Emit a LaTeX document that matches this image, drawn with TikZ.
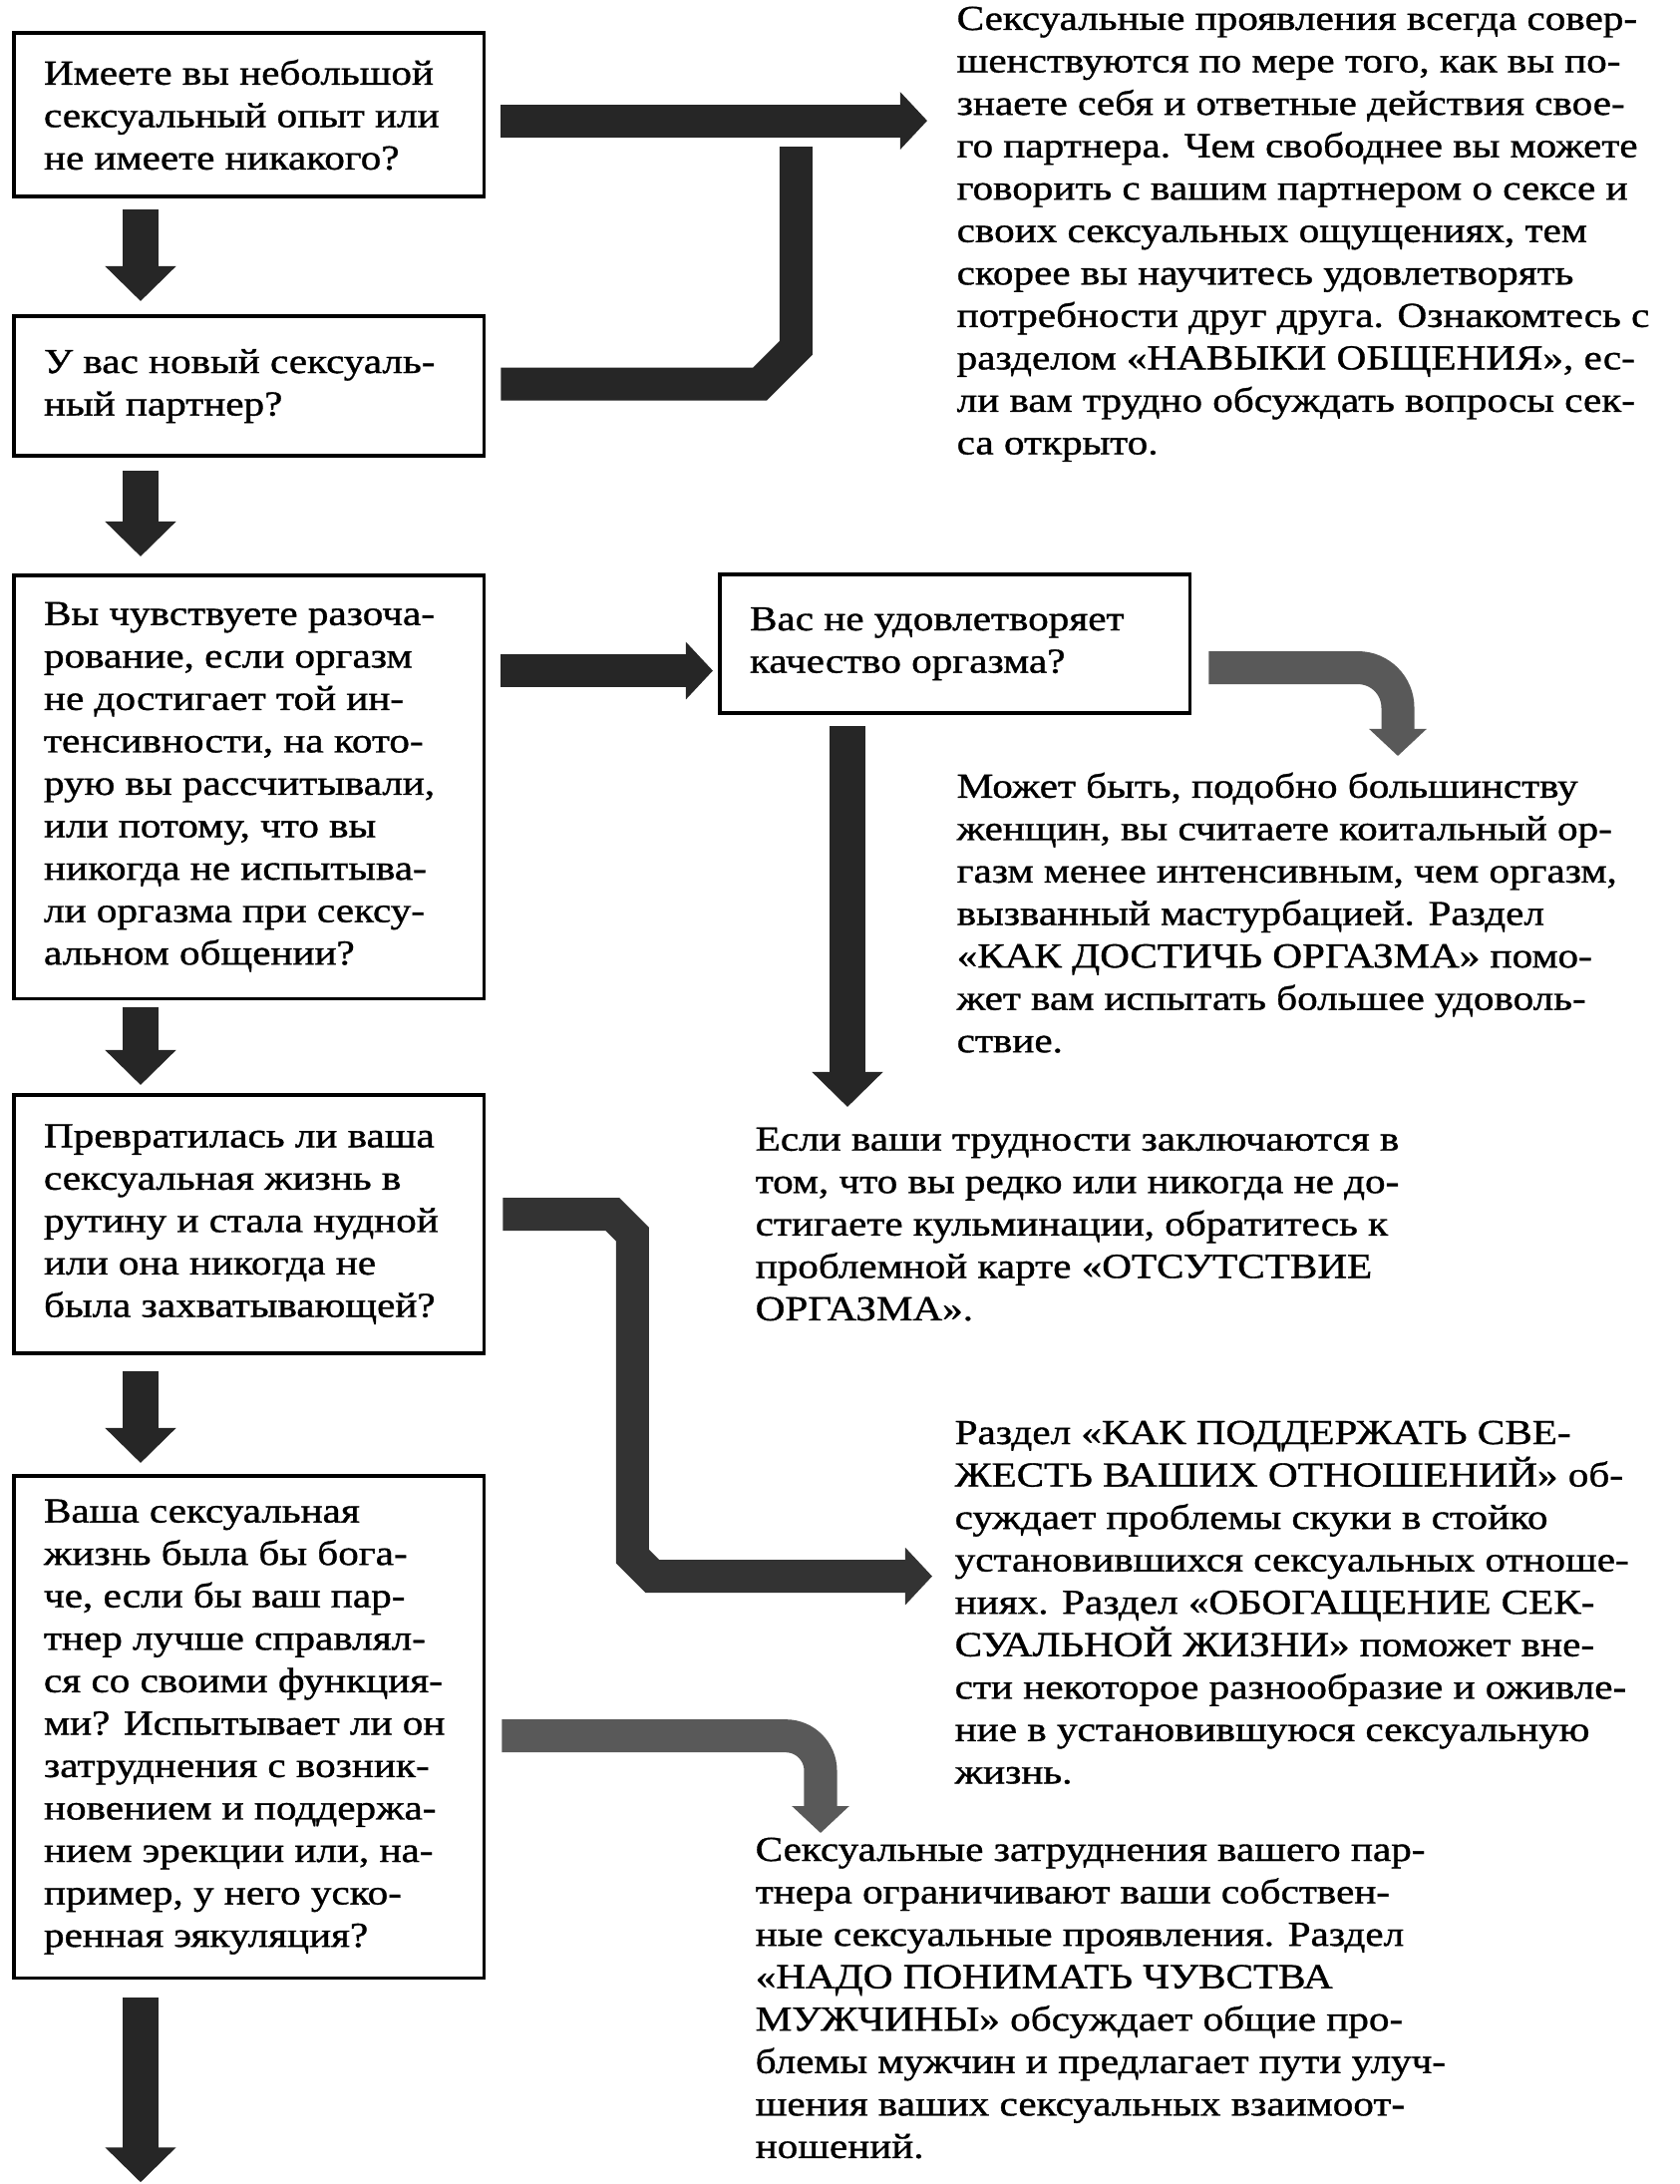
\documentclass[tikz,border=0pt]{standalone}
\usepackage{fontspec}
\newfontfamily\scanfont{Liberation Serif}[FakeStretch=1.17,FakeBold=1]
\usetikzlibrary{arrows.meta}

\begin{document}
\begin{tikzpicture}[x=0.01cm, y=-0.01cm,
    qbox/.style={draw, line width=1pt, rectangle, anchor=north west, outer sep=0pt,
      inner xsep=0.30cm, inner ysep=0pt, text width=4.11cm, align=flush left,
      font=\scanfont\fontsize{10pt}{12.1pt}\selectfont},
    note/.style={anchor=north west, inner sep=0pt, text width=7.4cm, align=flush left,
      font=\scanfont\fontsize{10pt}{12.1pt}\selectfont},
    fatdown/.style={line width=0.35cm, black!85, -{Triangle[width=0.69cm,length=0.35cm]}},
    fatlink/.style={line width=0.33cm, line join=miter, black!85, -{Triangle[width=0.56cm,length=0.27cm]}}]

\useasboundingbox (0,0) rectangle (1684,2190);

% question boxes
\node[qbox, minimum height=1.64cm] (b1) at (14,33)
  {Имеете вы небольшой\\сексуальный опыт или\\не имеете никакого?};
\node[qbox, minimum height=1.40cm] (b2) at (14,317)
  {У вас новый сексуаль-\\ный партнер?};
\node[qbox, minimum height=4.24cm] (b3) at (14,577)
  {Вы чувствуете разоча-\\рование, если оргазм\\не достигает той ин-\\тенсивности, на кото-\\рую вы рассчитывали,\\или потому, что вы\\никогда не испытыва-\\ли оргазма при сексу-\\альном общении?};
\node[qbox, minimum height=2.59cm] (b4) at (14,1098)
  {Превратилась ли ваша\\сексуальная жизнь в\\рутину и стала нудной\\или она никогда не\\была захватывающей?};
\node[qbox, minimum height=5.03cm] (b5) at (14,1480)
  {Ваша сексуальная\\жизнь была бы бога-\\че, если бы ваш пар-\\тнер лучше справлял-\\ся со своими функция-\\ми? Испытывает ли он\\затруднения с возник-\\новением и поддержа-\\нием эрекции или, на-\\пример, у него уско-\\ренная эякуляция?};
\node[qbox, minimum height=1.39cm] (b6) at (722,576)
  {Вас не удовлетворяет\\качество оргазма?};

% answers
\node[note] (t1) at (959,6)
  {Сексуальные проявления всегда совер-\\шенствуются по мере того, как вы по-\\знаете себя и ответные действия свое-\\го партнера. Чем свободнее вы можете\\говорить с вашим партнером о сексе и\\своих сексуальных ощущениях, тем\\скорее вы научитесь удовлетворять\\потребности друг друга. Ознакомтесь с\\разделом «НАВЫКИ ОБЩЕНИЯ», ес-\\ли вам трудно обсуждать вопросы сек-\\са открыто.};
\node[note] (t2) at (959,774)
  {Может быть, подобно большинству\\женщин, вы считаете коитальный ор-\\газм менее интенсивным, чем оргазм,\\вызванный мастурбацией. Раздел\\«КАК ДОСТИЧЬ ОРГАЗМА» помо-\\жет вам испытать большее удоволь-\\ствие.};
\node[note] (t3) at (757,1130)
  {Если ваши трудности заключаются в\\том, что вы редко или никогда не до-\\стигаете кульминации, обратитесь к\\проблемной карте «ОТСУТСТВИЕ\\ОРГАЗМА».};
\node[note] (t4) at (957,1424)
  {Раздел «КАК ПОДДЕРЖАТЬ СВЕ-\\ЖЕСТЬ ВАШИХ ОТНОШЕНИЙ» об-\\суждает проблемы скуки в стойко\\установившихся сексуальных отноше-\\ниях. Раздел «ОБОГАЩЕНИЕ СЕК-\\СУАЛЬНОЙ ЖИЗНИ» поможет вне-\\сти некоторое разнообразие и оживле-\\ние в установившуюся сексуальную\\жизнь.};
\node[note] (t5) at (757,1842)
  {Сексуальные затруднения вашего пар-\\тнера ограничивают ваши собствен-\\ные сексуальные проявления. Раздел\\«НАДО ПОНИМАТЬ ЧУВСТВА\\МУЖЧИНЫ» обсуждает общие про-\\блемы мужчин и предлагает пути улуч-\\шения ваших сексуальных взаимоот-\\ношений.};

% down the left column
\draw[fatdown] ([shift={(127,13)}]b1.south west) -- ([shift={(127,-15)}]b2.north west);
\draw[fatdown] ([shift={(127,15)}]b2.south west) -- ([shift={(127,-19)}]b3.north west);
\draw[fatdown] ([shift={(127,9)}]b3.south west) -- ([shift={(127,-10)}]b4.north west);
\draw[fatdown] ([shift={(127,18)}]b4.south west) -- ([shift={(127,-13)}]b5.north west);
\coordinate (exit) at ([shift={(127,205)}]b5.south west);
\draw[fatdown] ([shift={(127,20)}]b5.south west) -- (exit);

% first two questions lead to the same answer
\coordinate (r1) at ([shift={(17,6)}]b1.east);
\draw[fatlink, shorten >=0.29cm] (r1) -- (r1 -| t1.west);
\coordinate (join) at ([shift={(296,26)}]r1);
\draw[fatlink, -] ([shift={(17,-2)}]b2.east) -- ++(260,0) -- ++(36,-36) -- (join);

% orgasm branch
\coordinate (r3) at (b3.east |- b6.west);
\draw[fatlink] ([shift={(17,27)}]r3) -- ([shift={(-7,27)}]b6.west);
\draw[fatdown] ([shift={(128,13)}]b6.south west) -- ([shift={(93,-20)}]t3.north west);
\coordinate (r5) at ([shift={(443,-16)}]t2.north west);
\draw[fatlink, black!65, rounded corners=0.4cm] ([shift={(19,24)}]b6.east) -| (r5);

% routine
\coordinate (r6) at ([shift={(169,353)}]b4.east);
\draw[fatlink, black!80, shorten >=0.22cm] ([shift={(19,-10)}]b4.east) -- ++(110,0)
  -- ++(20,20) -- ++(0,323) -- (r6) -- (r6 -| t4.west);

% partner
\coordinate (r7) at ([shift={(66,-4)}]t5.north west);
\draw[fatlink, black!65, rounded corners=0.35cm] ([shift={(18,9)}]b5.east) -| (r7);

\end{tikzpicture}
\end{document}
